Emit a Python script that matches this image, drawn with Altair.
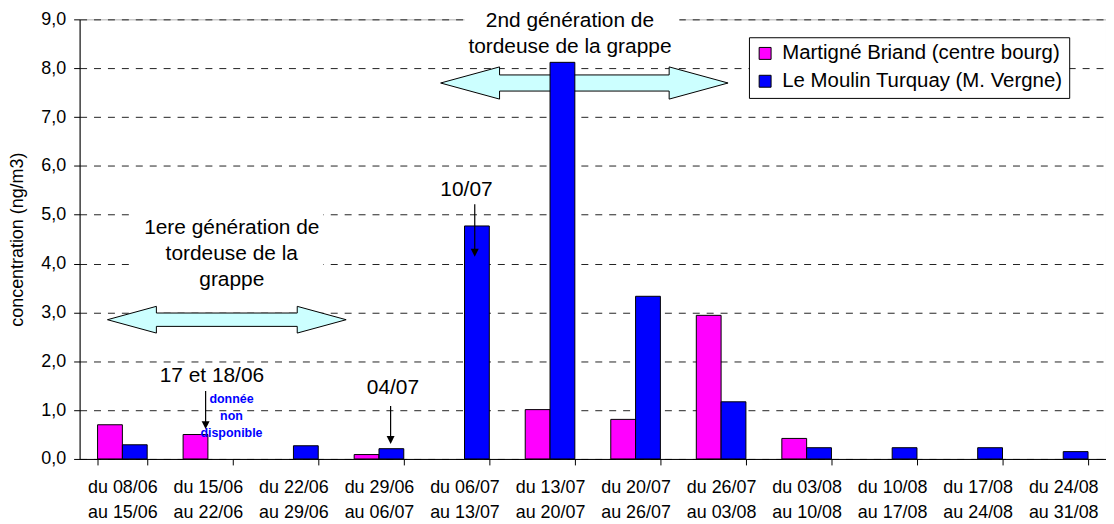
import altair as alt
import pandas as pd

FONT = "Liberation Sans"

# ---- data ----
week_start = ["08/06", "15/06", "22/06", "29/06", "06/07", "13/07",
              "20/07", "26/07", "03/08", "10/08", "17/08", "24/08"]
week_end = ["15/06", "22/06", "29/06", "06/07", "13/07", "20/07",
            "26/07", "03/08", "10/08", "17/08", "24/08", "31/08"]
martigne = [0.70, 0.50, None, 0.09, None, 1.01, 0.81, 2.94, 0.42, None, None, None]
moulin = [0.29, None, 0.27, 0.21, 4.77, 8.12, 3.33, 1.17, 0.23, 0.23, 0.23, 0.15]
series = ["Martigné Briand (centre bourg)", "Le Moulin Turquay (M. Vergne)"]
colors = ["#FF00FF", "#0000FF"]
y_ticks = [0, 1, 2, 3, 4, 5, 6, 7, 8, 9]

categories = [f"du {s}|au {e}" for s, e in zip(week_start, week_end)]
rows = []
for cat, m, b in zip(categories, martigne, moulin):
    if m is not None:
        rows.append({"week": cat, "series": series[0], "value": m})
    if b is not None:
        rows.append({"week": cat, "series": series[1], "value": b})
df = pd.DataFrame(rows)
one = pd.DataFrame({"a": [0]})

PX_PER_UNIT = 442 / 9.0

x_enc = alt.X(
    "week:N", sort=categories,
    scale=alt.Scale(domain=categories, paddingInner=0.42, paddingOuter=0.21),
    axis=alt.Axis(
        title=None, labelExpr="split(datum.label, '|')", labelAngle=0,
        tickBand="extent", tickSize=6, tickColor="black", domainColor="black",
        labelFontSize=18, labelLineHeight=25, labelPadding=14, labelColor="black",
        labelFont=FONT, labelOverlap=False, grid=False, labelBound=False,
    ),
)
y_enc = alt.Y(
    "value:Q", scale=alt.Scale(domain=[0, 9], nice=False, zero=True),
    axis=alt.Axis(
        title="concentration (ng/m3)", values=y_ticks,
        labelExpr="replace(format(datum.value, '.1f'), '.', ',')",
        grid=True, gridDash=[7, 7], gridColor="#222222", gridWidth=1,
        tickSize=6, tickColor="black", domainColor="black",
        labelFontSize=18, labelPadding=8, labelColor="black", labelFont=FONT,
        titleFontSize=18, titleFontWeight="normal", titleFont=FONT, titleColor="black",
        titleX=-62, titleY=221, titleAngle=-90, titleAlign="center", titleBaseline="middle",
    ),
)

bars = alt.Chart(df).mark_bar(stroke="black", strokeWidth=1, opacity=1).encode(
    x=x_enc,
    xOffset=alt.XOffset("series:N", sort=series,
                        scale=alt.Scale(domain=series, paddingInner=0, paddingOuter=0)),
    y=y_enc,
    color=alt.Color(
        "series:N", sort=series, scale=alt.Scale(domain=series, range=colors),
        legend=alt.Legend(
            title=None, orient="none", legendX=673, legendY=18,
            strokeColor="black", fillColor="white", padding=6, cornerRadius=0,
            symbolType="square", symbolSize=144, symbolStrokeColor="black",
            symbolStrokeWidth=1, symbolOpacity=1,
            labelFontSize=20.5, labelFont=FONT, labelColor="black",
            labelOffset=7, rowPadding=7, labelLimit=0,
        ),
    ),
)

# ---- annotations (pixel x inside plot, y in data units) ----
def v(page_y):
    return (460 - page_y) / PX_PER_UNIT

def box(x0, x1, y0, y1):
    return alt.Chart(one).mark_rect(fill="white", stroke=None).encode(
        x=alt.value(x0), x2=alt.value(x1), y=alt.datum(v(y0)), y2=alt.datum(v(y1)))

def text(txt, px, py, size, color="black", weight="normal", lh=None):
    # py is the vertical centre of the first line
    kw = dict(text=txt, lineBreak="\n", fontSize=size, font=FONT, color=color,
              fontWeight=weight, align="center", baseline="middle")
    if lh is not None:
        kw["lineHeight"] = lh
    return alt.Chart(one).mark_text(**kw).encode(x=alt.value(px), y=alt.datum(v(py)))

ARROW = ("M-1,0L-0.59,-0.112L-0.59,-0.056L0.59,-0.056L0.59,-0.112L1,0"
         "L0.59,0.112L0.59,0.056L-0.59,0.056L-0.59,0.112Z")

def big_arrow(px, py, width):
    return alt.Chart(one).mark_point(
        shape=ARROW, filled=True, fill="#CCFFFF", stroke="black", strokeWidth=1,
        opacity=1, size=width * width,
    ).encode(x=alt.value(px), y=alt.datum(v(py)))

def small_arrow(px, y_top, y_tip):
    line = alt.Chart(one).mark_rule(color="black", strokeWidth=1.2).encode(
        x=alt.value(px), y=alt.datum(v(y_top)), y2=alt.datum(v(y_tip - 4)))
    head = alt.Chart(one).mark_point(
        shape="M-1,-1L1,-1L0,1Z", filled=True, color="black", opacity=1, size=64,
    ).encode(x=alt.value(px), y=alt.datum(v(y_tip - 4)))
    return [line, head]

layers = [
    box(387, 603, 4, 58),
    box(55, 245, 205, 295),
    big_arrow(148, 320, 240),
    big_arrow(507.5, 82, 289),
    bars,
    text("2nd génération de\ntordeuse de la grappe", 493, 20, 21, lh=25.5),
    text("1ere génération de\ntordeuse de la\ngrappe", 153, 228, 21, lh=26),
    text("17 et 18/06", 133, 377, 21),
    text("04/07", 315, 389, 21),
    text("10/07", 389, 190, 21),
    text("donnée\nnon\ndisponible", 152.7, 399.5, 12.5, color="#0000FF",
         weight="bold", lh=17.3),
]
layers += small_arrow(126.7, 391.7, 430)
layers += small_arrow(312.7, 406.7, 445)
layers += small_arrow(397.3, 204, 256.7)

chart = alt.layer(*layers).properties(
    width=1032, height=442,
    padding={"left": 72, "top": 10, "right": 0, "bottom": 64},
    autosize=alt.AutoSizeParams(type="none"),
).configure(font=FONT).configure_view(stroke="#b0b0b0", strokeWidth=1)

chart.save("out.html", embed_options={"renderer": "svg", "actions": False})
